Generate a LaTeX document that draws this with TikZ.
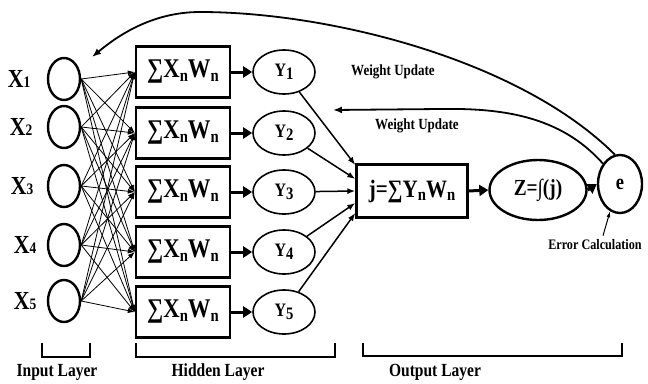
\documentclass[tikz,border=0pt]{standalone}
\usepackage{fontspec}
\setmainfont{Liberation Serif}[FakeStretch=0.84]
\usetikzlibrary{shapes.geometric,arrows.meta}
\newcommand\xlab[1]{X{\fontsize{16}{16}\selectfont #1}}
\newcommand\sub[1]{\raisebox{-3.5pt}{\fontsize{17.5}{17.5}\selectfont #1}}
\begin{document}
\begin{tikzpicture}[x=1pt,y=-1pt,
 inp/.style={draw,ellipse,line width=2.4pt,minimum width=32pt,minimum height=42pt,inner sep=0pt},
 hbox/.style={draw,rectangle,line width=2.4pt,minimum width=94pt,minimum height=51pt,inner sep=0pt,font=\fontsize{27}{27}\selectfont\bfseries},
 yell/.style={draw,ellipse,line width=1.6pt,minimum width=62pt,minimum height=44pt,inner sep=0pt,font=\fontsize{19}{19}\selectfont\bfseries},
 xl/.style={inner sep=0pt,font=\fontsize{26}{26}\selectfont\bfseries},
 lab/.style={inner sep=0pt,font=\fontsize{15.5}{15.5}\selectfont\bfseries},
 layer/.style={inner sep=0pt,font=\fontsize{18.5}{18.5}\selectfont\bfseries},
 thin/.style={line width=0.8pt,-{Latex[length=7pt,width=5pt]}},
 thickarr/.style={line width=3pt,-{Triangle[length=9pt,width=11pt]}},
 conn/.style={line width=1.5pt,-{Latex[length=8pt,width=6pt]}},
 fb/.style={line width=1.8pt,-{Latex[length=9pt,width=7pt]}},
 brk/.style={line width=2.4pt}
]
\useasboundingbox (0,0) rectangle (648,383);
% input layer
\foreach \i/\y/\lx in {1/79/19,2/127/21,3/186/22,4/245/25,5/301/25}{
  \node[inp] (x\i) at (64,\y) {};
  \node[xl] (lx\i) at (\lx,\y) {\xlab{\i}};
}
% hidden layer
\foreach \i/\y in {1/72,2/133,3/192,4/252,5/312}{
  \node[hbox] (h\i) at (183,\y) {∑X\sub{n}W\sub{n}};
  \node[yell] (y\i) at (284,\y) {Y\sub{\i}};
  \draw[thickarr] (h\i.east) -- (y\i.west);
}
\foreach \i in {1,...,5}{
  \foreach \j in {1,...,5}{
    \draw[thin] (x\i.east) -- (h\j.west);
  }
}
% output layer
\node[draw,rectangle,line width=2.4pt,minimum width=111pt,minimum height=53pt,inner sep=0pt,font=\fontsize{25}{25}\selectfont\bfseries] (j) at (412,191) {j=∑Y\sub{n}W\sub{n}};
\node[draw,ellipse,line width=2.4pt,minimum width=97pt,minimum height=60pt,inner sep=0pt,font=\fontsize{23}{23}\selectfont\bfseries] (z) at (538,190) {Z=∫(j)};
\node[draw,ellipse,line width=2.4pt,minimum width=44pt,minimum height=58pt,inner sep=0pt,font=\fontsize{22}{22}\selectfont\bfseries] (e) at (620,184) {e};
\draw[thickarr] (j.east) -- (z.west);
\draw[thickarr] (z.east) -- (e.west);
\draw[conn] (y1) -- ([yshift=26pt]j.west);
\draw[conn] (y2) -- ([yshift=12pt]j.west);
\draw[conn] (y3) -- (j.west);
\draw[conn] (y4) -- ([yshift=-12pt]j.west);
\draw[conn] (y5) -- ([yshift=-22pt]j.west);
% feedback
\coordinate (fb1) at (92,57);
\coordinate (fb2) at (333,110);
\draw[fb] (e.100) .. controls (520,60) and (330,12) .. (200,12) .. controls (150,12) and (115,38) .. (fb1);
\draw[fb] (e.130) .. controls (560,115) and (500,108) .. (440,109) -- (fb2);
\node[lab] (wu1) at (393,72) {Weight Update};
\node[lab] (wu2) at (417,126) {Weight Update};
\node[lab,font=\fontsize{14.5}{14.5}\selectfont\bfseries] (ec) at (595,245) {Error Calculation};
\draw[line width=1pt,-{Latex[length=6pt,width=4pt]}] (ec.north) ++(8,-4) coordinate (ecs) -- (e.250);
% brackets
\draw[brk] (42,343) -- (42,357) -- (90,357) -- (90,343);
\draw[brk] (136,343) -- (136,357) -- (335,357) -- (335,343);
\draw[brk] (363,343) -- (363,356) -- (622,356) -- (622,343);
\node[layer] (il) at (57,372) {Input Layer};
\node[layer] (hl) at (218,372) {Hidden Layer};
\node[layer] (ol) at (435,372) {Output Layer};
\end{tikzpicture}
\end{document}
